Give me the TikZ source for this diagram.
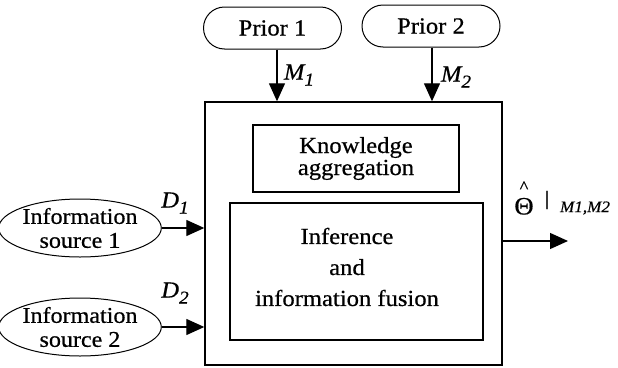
\documentclass[tikz,border=0pt]{standalone}
\usepackage{fontspec}
\setmainfont{Liberation Serif}[FakeStretch=1.07,FakeBold=0.6]
\usetikzlibrary{arrows.meta,shapes.geometric}
\newcommand{\sym}[2]{{\itshape #1}\raisebox{-6pt}{\fontsize{18}{18}\selectfont\itshape #2}}
\begin{document}
\begin{tikzpicture}[x=1pt,y=-1pt,
  every node/.style={font=\fontsize{23}{24}\selectfont, inner sep=0pt},
  pill/.style={draw, line width=1pt, rounded corners=21pt, minimum width=138pt, minimum height=42pt},
  srcnode/.style={draw, ellipse, line width=1pt, minimum width=135pt, minimum height=58pt, align=center,
                  font=\fontsize{22.5}{24}\selectfont},
  blockbox/.style={draw, line width=1.4pt},
  arr/.style={line width=1.3pt, -{Triangle[length=18pt,width=16pt]}},
  lbl/.style={font=\fontsize{23}{23}\selectfont}
]
\useasboundingbox (0,0) rectangle (618,367);

% sources of prior knowledge
\node[pill] (p1) at (272.5,28) {Prior 1};
\node[pill] (p2) at (431,26) {Prior 2};

% information sources
\node[srcnode] (s1) at (80,228) {Information\\source 1};
\node[srcnode] (s2) at (80,327) {Information\\source 2};

% the fusion system and its two stages
\node[blockbox, minimum width=297pt, minimum height=263pt] (sys) at (353.5,233.5) {};
\node[blockbox, line width=1.2pt, minimum width=206pt, minimum height=67pt, align=center,
      font=\fontsize{23}{22}\selectfont] (agg) at (356,158.5) {Knowledge\\aggregation};
\node[blockbox, line width=1.2pt, minimum width=253pt, minimum height=137pt] (inf) at (356.5,271.5) {};
\node[align=center, font=\fontsize{23}{31}\selectfont] (inftxt) at (347,267)
  {Inference\\and\\information fusion};

% inputs from the priors
\coordinate (c1) at (277,0);
\coordinate (c2) at (432,0);
\draw[arr] (c1 |- p1.south) -- (c1 |- sys.north);
\draw[arr] (c2 |- p2.south) -- (c2 |- sys.north);
\node[lbl] (m1) at (299,75) {\sym{M}{1}};
\node[lbl] (m2) at (456,77) {\sym{M}{2}};

% inputs from the information sources
\draw[arr] (s1.east) -- (s1.east -| sys.west);
\draw[arr] (s2.east) -- (s2.east -| sys.west);
\node[lbl] (d1) at (175,203) {\sym{D}{1}};
\node[lbl] (d2) at (175,293) {\sym{D}{2}};

% output estimate: hatted Theta restricted to M1,M2
\coordinate (out) at (568,241);
\draw[arr] (out -| sys.east) -- (out);
\node[align=center, font=\fontsize{25}{22}\selectfont] (theta) at (524,198)
  {{\fontsize{17}{17}\selectfont\^{}}\\Θ};
\node[font=\fontsize{20}{20}\selectfont\mdseries] (bar) at (547,200) {|};
\node[font=\fontsize{16}{16}\selectfont\itshape] (sub) at (585,208) {M1,M2};
\end{tikzpicture}
\end{document}
